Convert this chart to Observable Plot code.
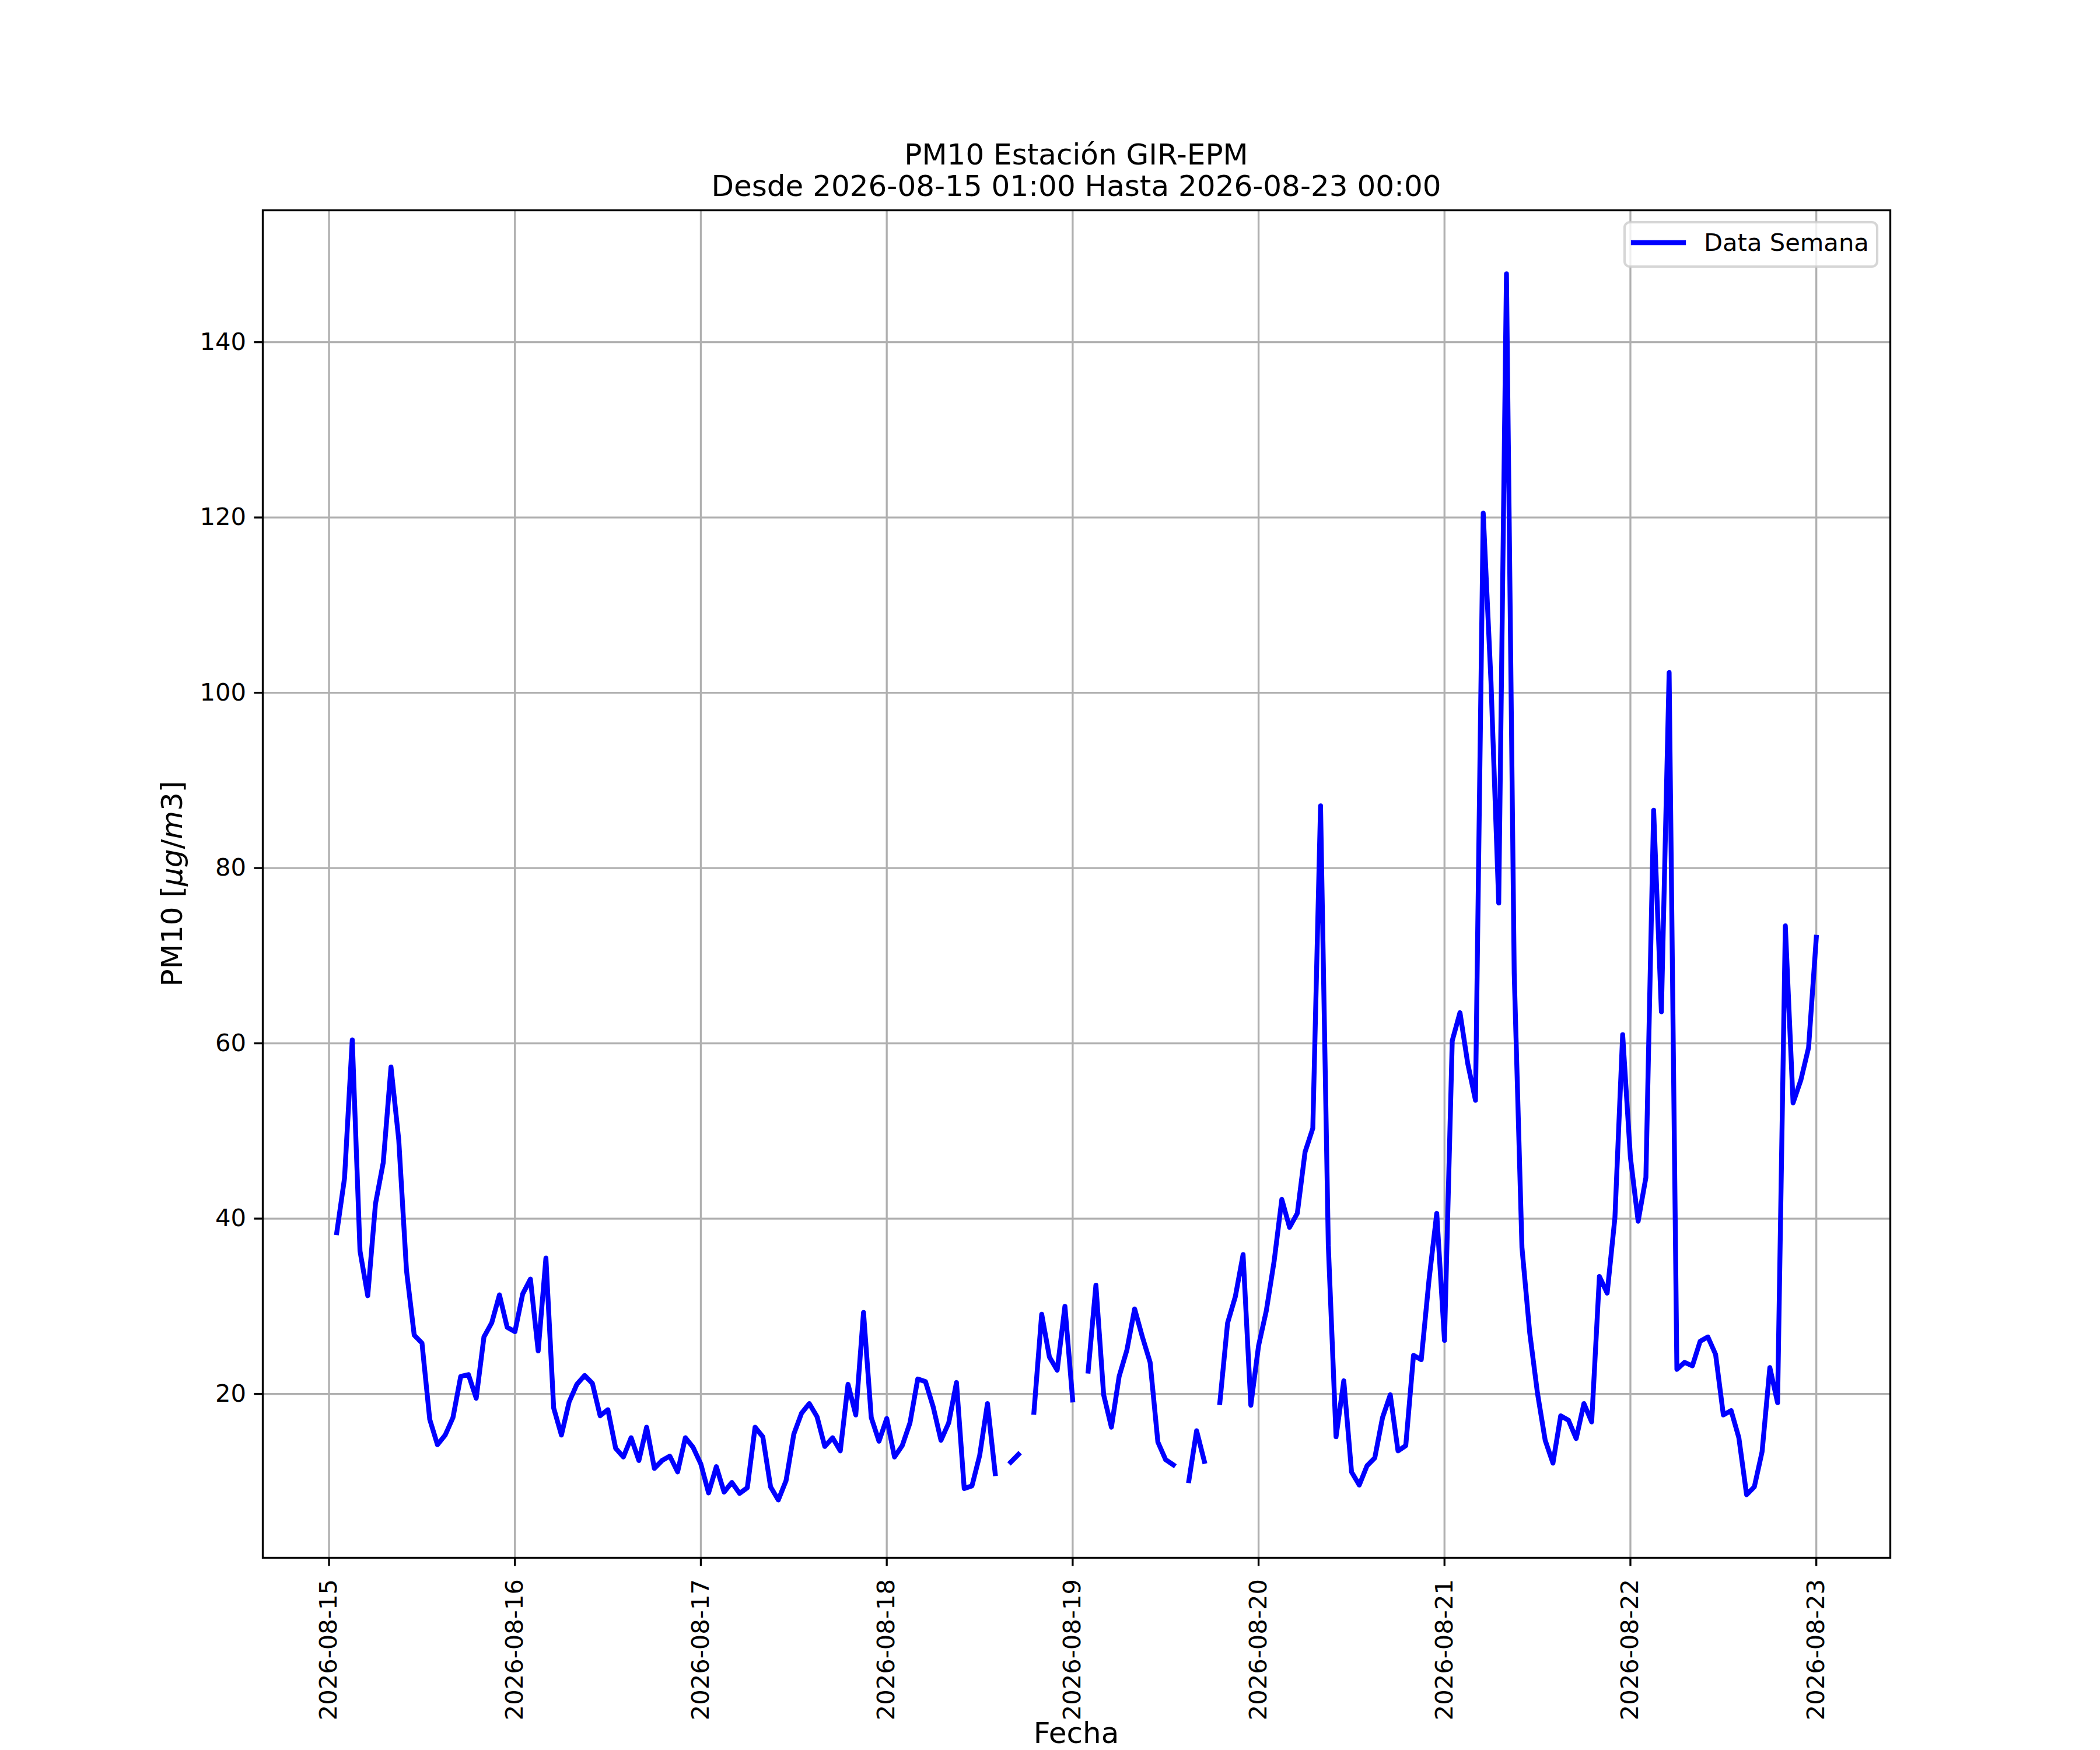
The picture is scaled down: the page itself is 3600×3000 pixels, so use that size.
<!DOCTYPE html>
<html>
<head>
<meta charset="utf-8">
<script src="https://cdn.jsdelivr.net/npm/d3@7"></script>
<script src="https://cdn.jsdelivr.net/npm/@observablehq/plot@0.6"></script>
<style>
  html, body { margin: 0; padding: 0; background: #ffffff; }
  #chart { width: 3600px; height: 3000px; }
</style>
</head>
<body>
<div id="chart"></div>
<script>
// ---- data ----
const firstHour = "2026-08-15T01:00:00Z";
const pm10 = [
  38.4, 44.6, 60.4, 36.3, 31.2, 41.7, 46.4, 57.3, 49.0, 34.1, 26.7, 25.8,
  17.1, 14.2, 15.3, 17.3, 22.0, 22.2, 19.5, 26.5, 28.1, 31.3, 27.6, 27.1,
  31.4, 33.1, 24.9, 35.5, 18.4, 15.3, 19.1, 21.1, 22.1, 21.2, 17.5, 18.2,
  13.8, 12.8, 15.0, 12.4, 16.2, 11.5, 12.4, 12.9, 11.1, 15.0, 13.9, 12.0,
  8.7, 11.7, 8.8, 9.9, 8.65, 9.3, 16.2, 15.1, 9.4, 7.9, 10.1, 15.4,
  17.8, 18.9, 17.4, 14.0, 15.0, 13.5, 21.1, 17.6, 29.3, 17.3, 14.6, 17.2,
  12.8, 14.1, 16.7, 21.7, 21.4, 18.5, 14.7, 16.7, 21.3, 9.2, 9.5, 13.0,
  18.9, 10.9, null, 12.2, 13.1, null, 17.9, 29.1, 24.2, 22.7, 30.0, 19.3,
  null, 22.6, 32.4, 19.9, 16.2, 22.0, 25.0, 29.7, 26.5, 23.6, 14.5, 12.5,
  11.9, null, 10.1, 15.8, 12.3, null, 19.0, 28.1, 31.1, 35.9, 18.7, 25.5,
  29.5, 35.1, 42.2, 39.0, 40.6, 47.6, 50.3, 87.1, 37.0, 15.1, 21.5, 11.1,
  9.6, 11.8, 12.7, 17.3, 19.9, 13.5, 14.1, 24.4, 23.9, 33.0, 40.6, 26.1,
  60.3, 63.5, 57.7, 53.5, 120.5, 101.3, 76.0, 147.8, 68.0, 36.7, 27.0, 20.1,
  14.7, 12.1, 17.5, 17.0, 14.9, 18.9, 16.8, 33.4, 31.5, 40.1, 61.0, 47.0,
  39.7, 44.7, 86.6, 63.6, 102.3, 22.8, 23.6, 23.2, 26.0, 26.5, 24.5, 17.6,
  18.1, 15.0, 8.5, 9.4, 13.4, 23.0, 19.0, 73.4, 53.2, 55.8, 59.5, 72.1
];
const dayTicks = ["2026-08-15", "2026-08-16", "2026-08-17", "2026-08-18", "2026-08-19",
                  "2026-08-20", "2026-08-21", "2026-08-22", "2026-08-23"];
const yTicks = [20, 40, 60, 80, 100, 120, 140];
const xDomain = ["2026-08-14T15:27:00Z", "2026-08-23T09:33:00Z"];
const yDomain = [1.3, 155.05];
const titleLines = ["PM10 Estación GIR-EPM", "Desde 2026-08-15 01:00 Hasta 2026-08-23 00:00"];
const xLabel = "Fecha";
const legendLabel = "Data Semana";

// ---- build table ----
const start = new Date(firstHour);
const table = pm10.map((v, i) => ({
  date: d3.utcHour.offset(start, i),
  value: v == null ? NaN : v
}));
const tickDates = dayTicks.map(d => new Date(d + "T00:00:00Z"));

const W = 3600, H = 3000;
const mL = 450, mR = 360, mT = 360, mB = 330;
const LW = 3.33;       // 0.8pt at 300dpi
const TICK = 14.6;     // 3.5pt
const FS = 41.67;      // 10pt
const FSL = 50;        // 12pt

const svg = Plot.plot({
  width: W,
  height: H,
  marginLeft: mL,
  marginRight: mR,
  marginTop: mT,
  marginBottom: mB,
  style: { fontFamily: "DejaVu Sans", fontSize: FS + "px", background: "#ffffff", color: "#000000" },
  x: { type: "utc", domain: xDomain.map(d => new Date(d)) },
  y: { type: "linear", domain: yDomain },
  marks: [
    Plot.gridX(tickDates, { stroke: "#b0b0b0", strokeOpacity: 1, strokeWidth: LW }),
    Plot.gridY(yTicks, { stroke: "#b0b0b0", strokeOpacity: 1, strokeWidth: LW }),
    Plot.lineY(table, {
      x: "date", y: "value", stroke: "#0000ff", strokeWidth: 8.33,
      strokeLinejoin: "round", strokeLinecap: "square"
    }),
    Plot.frame({ stroke: "#000000", strokeWidth: LW }),
    Plot.axisX(tickDates, {
      anchor: "bottom", tickSize: TICK, tickPadding: 22, tickRotate: -90,
      strokeWidth: LW, stroke: "#000000", fill: "#000000",
      tickFormat: d3.utcFormat("%Y-%m-%d"), label: null, fontSize: FS
    }),
    Plot.axisY(yTicks, {
      anchor: "left", tickSize: TICK, tickPadding: 14, strokeWidth: LW,
      stroke: "#000000", fill: "#000000",
      tickFormat: d => String(d), label: null, fontSize: FS
    })
  ]
});

document.getElementById("chart").appendChild(svg);

const s = d3.select(svg);
const cx = mL + (W - mL - mR) / 2;

// title
const t = s.append("text")
  .attr("text-anchor", "middle")
  .attr("font-family", "DejaVu Sans")
  .attr("font-size", FSL)
  .attr("fill", "#000000");
t.append("tspan").attr("x", cx).attr("y", 282).text(titleLines[0]);
t.append("tspan").attr("x", cx).attr("y", 336).text(titleLines[1]);

// x label
s.append("text")
  .attr("x", cx).attr("y", 2988)
  .attr("text-anchor", "middle")
  .attr("font-family", "DejaVu Sans")
  .attr("font-size", FSL)
  .attr("fill", "#000000")
  .text(xLabel);

// y label with math italics
const yl = s.append("text")
  .attr("transform", `translate(312,${mT + (H - mT - mB) / 2}) rotate(-90)`)
  .attr("text-anchor", "middle")
  .attr("font-family", "DejaVu Sans")
  .attr("font-size", FSL)
  .attr("fill", "#000000");
yl.append("tspan").text("PM10 [");
yl.append("tspan").attr("font-style", "italic").text("μg");
yl.append("tspan").text("/");
yl.append("tspan").attr("font-style", "italic").text("m");
yl.append("tspan").text("3]");

// legend
const lg = s.append("g").attr("text-anchor", "start");
lg.append("rect")
  .attr("x", 2785).attr("y", 381).attr("width", 433).attr("height", 76)
  .attr("rx", 9).attr("ry", 9)
  .attr("fill", "#ffffff").attr("fill-opacity", 0.8)
  .attr("stroke", "#cccccc").attr("stroke-opacity", 0.8).attr("stroke-width", 4.17);
lg.append("line")
  .attr("x1", 2800).attr("x2", 2886).attr("y1", 416).attr("y2", 416)
  .attr("stroke", "#0000ff").attr("stroke-width", 8.33).attr("stroke-linecap", "square");
lg.append("text")
  .attr("x", 2921).attr("y", 430)
  .attr("text-anchor", "start")
  .attr("font-family", "DejaVu Sans")
  .attr("font-size", FS)
  .attr("fill", "#000000")
  .text(legendLabel);
</script>
</body>
</html>
